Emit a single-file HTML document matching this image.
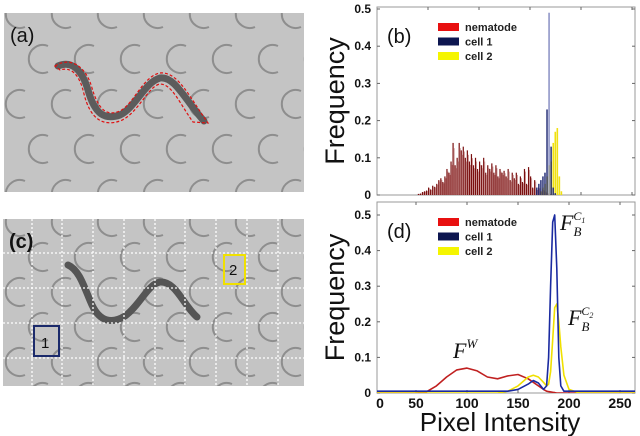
<!DOCTYPE html>
<html><head><meta charset="utf-8">
<style>
body{margin:0;background:#fff;width:640px;height:436px;overflow:hidden;font-family:"Liberation Sans",sans-serif}
svg{position:absolute;left:0;top:0}
</style></head>
<body>
<svg id="fig" width="640" height="436" viewBox="0 0 640 436">
  <defs>
    <clipPath id="clipA"><rect x="4" y="13" width="300" height="179"/></clipPath>
    <clipPath id="clipC"><rect x="3" y="219" width="301" height="167"/></clipPath>
    <clipPath id="clipD"><rect x="377" y="202" width="258" height="191"/></clipPath>
  </defs>
  <g clip-path="url(#clipA)">
    <rect x="4" y="13" width="300" height="179" fill="#c4c4c4"/>
    <g id="ringsA" fill="none" stroke="#8e8e8e" stroke-width="2"></g>
    <path d="M58 66 C72 60 82 70 88 90 C95 115 105 120 120 115 C135 108 145 82 160 78 C175 76 185 100 204 121" fill="none" stroke="#5c5c5c" stroke-width="7" stroke-linecap="round"/>
    <path d="M55 66 C70 56 86 66 92 88 C99 112 108 116 120 111 C134 104 143 76 160 73 C178 71 190 98 208 123 L193 122 C180 104 172 84 160 84 C148 86 138 114 120 121 C102 127 90 118 84 94 C80 76 72 66 60 70 Z" fill="none" stroke="#e01010" stroke-width="1.2" stroke-dasharray="3,2"/>
    <text x="10" y="42" font-size="20" fill="#111">(a)</text>
  </g>
  <g clip-path="url(#clipC)">
    <rect x="3" y="219" width="301" height="167" fill="#c4c4c4"/>
    <g id="ringsC" fill="none" stroke="#8e8e8e" stroke-width="2"></g>
    <path d="M68 265 C80 270 85 290 92 305 C100 322 112 324 125 316 C140 305 148 284 160 282 C176 281 183 305 197 317" fill="none" stroke="#555" stroke-width="7" stroke-linecap="round"/>
    <g id="gridC" stroke="#fff" stroke-width="1.3" stroke-dasharray="2,2"></g>
    <rect x="34" y="326" width="25" height="30" fill="none" stroke="#1b2a6b" stroke-width="2"/>
    <text x="41" y="348" font-size="15" fill="#111">1</text>
    <rect x="224" y="255" width="21" height="29" fill="none" stroke="#f0e000" stroke-width="2"/>
    <text x="229" y="275" font-size="15" fill="#111">2</text>
    <text x="9" y="248" font-size="20" font-weight="bold" fill="#111">(c)</text>
  </g>
  <g id="chartB"></g>
  <g id="chartD"></g>
</svg>
<script>
// ---- chart (b) data: histogram bins ----
const nemBins = [40,42,44,46,48,50,52,54,56,58,60,62,64,66,68,70,72,74,76,78,80,82,84,86,88,90,92,94,96,98,100,102,104,106,108,110,112,114,116,118,120,122,124,126,128,130,132,134,136,138,140,142,144,146,148,150,152,154,156,158,160,162,164,166,168];
const nemFreq = [0.003,0.004,0.008,0.01,0.012,0.02,0.015,0.025,0.022,0.03,0.04,0.045,0.035,0.05,0.07,0.06,0.09,0.14,0.08,0.1,0.14,0.12,0.13,0.1,0.12,0.09,0.11,0.08,0.1,0.07,0.09,0.08,0.1,0.06,0.08,0.07,0.085,0.06,0.08,0.05,0.07,0.06,0.065,0.05,0.07,0.04,0.06,0.045,0.06,0.03,0.05,0.035,0.07,0.03,0.075,0.05,0.02,0.04,0.015,0.02,0.01,0.015,0.01,0.005,0.003];
const c1Bins = [156,158,160,162,164,166,168,170,172,174];
const c1Freq = [0.02,0.03,0.04,0.05,0.06,0.23,0.49,0.13,0.02,0.005];
const c2Bins = [160,162,164,166,168,170,172,174,176,178,180];
const c2Freq = [0.01,0.02,0.03,0.05,0.08,0.09,0.14,0.17,0.18,0.05,0.01];
const legendLabels = ["nematode","cell 1","cell 2"];
const yTicks = [0,0.1,0.2,0.3,0.4,0.5];
// ---- chart (d) data: smoothed curves ----
const dX = [10,20,30,40,50,60,70,80,90,100,110,120,130,140,150,160,165,170,175,178,180,182,184,186,188,190,192,195,200,210,220,240,260,270];
const dNem = [0,0,0,0,0,0.003,0.02,0.045,0.065,0.07,0.062,0.045,0.04,0.048,0.052,0.04,0.03,0.02,0.01,0.005,0.004,0.003,0.002,0.001,0,0,0,0,0,0,0,0,0,0];
const dC1 = [0.005,0.005,0.005,0.005,0.005,0.005,0.005,0.005,0.005,0.005,0.005,0.005,0.005,0.005,0.01,0.025,0.035,0.028,0.01,0.02,0.1,0.3,0.48,0.5,0.35,0.1,0.02,0.005,0.005,0.005,0.005,0.005,0.005,0.005];
const dC2 = [0,0,0,0,0,0,0,0,0,0,0,0,0,0.005,0.02,0.045,0.05,0.045,0.03,0.02,0.025,0.06,0.15,0.24,0.25,0.2,0.13,0.05,0.01,0,0,0,0,0];
const xTicksD = [0,50,100,150,200,250];

const NS="http://www.w3.org/2000/svg";
function mk(tag,attrs,parent){const e=document.createElementNS(NS,tag);for(const k in attrs)e.setAttribute(k,attrs[k]);parent.appendChild(e);return e;}

function rings(g,x0,y0,dx,dy,rows,cols){for(let r=0;r<rows;r++)for(let c=0;c<cols;c++){const cx=x0+c*dx+(r%2?dx/2:0),cy=y0+r*dy;const p=mk('path',{d:`M${cx+5} ${cy-13} A14 14 0 1 0 ${cx+5} ${cy+13}`},g);

}}
rings(document.getElementById('ringsA'),20,14,46,45,5,8);
rings(document.getElementById('ringsC'),20,222,46,35,6,8);
const gc=document.getElementById('gridC');
[32,62,93,124,155,185,216,247,278].forEach(x=>{const l=mk('line',{x1:x,y1:219,x2:x,y2:386},gc);});
[253,288,323,358].forEach(y=>{const l=mk('line',{x1:3,y1:y,x2:304,y2:y},gc);});

function labels_leg(g,x,y,cols){legendLabels.forEach((s,i)=>{const r=mk('rect',{x:x,y:y+i*14.5-4,width:21,height:8,fill:cols[i]},g);
  
  const t=mk('text',{x:x+27,y:y+i*14.5+4,'font-size':11,'font-weight':'bold',fill:'#222'},g);t.textContent=s;
  });}

function frame(g,L,T,R,B,ysc,xsc,xt,labels,panel){
  mk('rect',{x:L,y:T,width:R-L,height:B-T,fill:'#fff',stroke:'#999','stroke-width':1},g);
  yTicks.forEach(v=>{const y=ysc(v);
    mk('line',{x1:L,y1:y,x2:L+3,y2:y,stroke:'#666'},g);mk('line',{x1:R-3,y1:y,x2:R,y2:y,stroke:'#666'},g);
    const t=mk('text',{x:L-6,y:y+4,'text-anchor':'end','font-size':12,'font-weight':'bold',fill:'#111'},g);t.textContent=v===0?'0':v.toFixed(1);
    });
  xt.forEach(v=>{let x=xsc(v);
    if(x>L+2&&x<R-2){mk('line',{x1:x,y1:B,x2:x,y2:B-3,stroke:'#666'},g);mk('line',{x1:x,y1:T,x2:x,y2:T+3,stroke:'#666'},g);}
    if(labels){const lx=Math.max(x,L+3+(v/50)*34);const t=mk('text',{x:lx,y:B+15,'text-anchor':'middle','font-size':14,'font-weight':'bold',fill:'#111'},g);t.textContent=v;
    }});
  const cy=(T+B)/2;
  const yt=mk('text',{x:0,y:0,transform:`translate(344 ${cy}) rotate(-90)`,'text-anchor':'middle','font-size':27,fill:'#111'},g);yt.textContent='Frequency';
  
  const pl=mk('text',{x:L+10,y:T+36,'font-size':20,fill:'#111'},g);pl.textContent=panel;
  
  labels_leg(g,L+61,T+20,['#e81010','#0d1650','#f5f500']);
}

{const g=document.getElementById('chartB');
 const L=377,T=7,R=635,B=195;const xs=v=>L+v*1.02, ys=v=>B-v*(186/0.5);
 frame(g,L,T,R,B,ys,xs,[0,50,100,150,200,250],false,'(b)');
 nemBins.forEach((b,i)=>{const r=mk('rect',{x:xs(b),y:ys(nemFreq[i]),width:1.2,height:B-ys(nemFreq[i]),fill:'#7a1010'},g);
   
   const r2=mk('rect',{x:xs(b)+1.2,y:ys(nemFreq[i]*0.9),width:0.9,height:B-ys(nemFreq[i]*0.9),fill:'#c89090'},g);
   });
 c2Bins.forEach((b,i)=>{const r=mk('rect',{x:xs(b),y:ys(c2Freq[i]),width:1.6,height:B-ys(c2Freq[i]),fill:'#f0e010'},g);
   });
 c1Bins.forEach((b,i)=>{const r=mk('rect',{x:xs(b),y:ys(c1Freq[i]),width:1.4,height:B-ys(c1Freq[i]),fill:i==6?'#8088c0':'#1a2470'},g);
   });
}
{const g=document.getElementById('chartD');
 const L=377,T=202,R=635,B=393;const xs=v=>365+v*1.02, ys=v=>B-v*(178/0.5);
 frame(g,L,T,R,B,ys,xs,xTicksD,true,'(d)');
 const cg=mk('g',{'clip-path':'url(#clipD)'},g);
 const ser=[[dNem,'#c02020','curve-nematode'],[dC2,'#f0e000','curve-cell-2'],[dC1,'#1a2aa0','curve-cell-1']];
 ser.forEach(([arr,col,nm])=>{let d='';dX.forEach((x,i)=>{d+=(i?'L':'M')+xs(x).toFixed(1)+' '+ys(arr[i]).toFixed(1)+' ';});
  const p=mk('path',{d:d,fill:'none',stroke:col,'stroke-width':1.6,'stroke-linejoin':'round'},cg);
  });
 const xt=mk('text',{x:500,y:431,'text-anchor':'middle','font-size':26,fill:'#111'},g);xt.textContent='Pixel Intensity';
 
 const a1=mk('text',{x:453,y:358,'font-size':22,'font-style':'italic','font-family':'Liberation Serif',fill:'#111'},g);a1.innerHTML='F<tspan font-size="13" dy="-10">W</tspan>';
 
 const a2=mk('text',{x:560,y:230,'font-size':22,'font-style':'italic','font-family':'Liberation Serif',fill:'#111'},g);a2.innerHTML='F<tspan font-size="13" dy="6">B</tspan><tspan font-size="12" dx="-8" dy="-16">C</tspan><tspan font-size="8" dy="3">1</tspan>';
 
 const a3=mk('text',{x:568,y:325,'font-size':22,'font-style':'italic','font-family':'Liberation Serif',fill:'#111'},g);a3.innerHTML='F<tspan font-size="13" dy="6">B</tspan><tspan font-size="12" dx="-8" dy="-16">C</tspan><tspan font-size="8" dy="3">2</tspan>';
 
}
</script>
</body></html>
